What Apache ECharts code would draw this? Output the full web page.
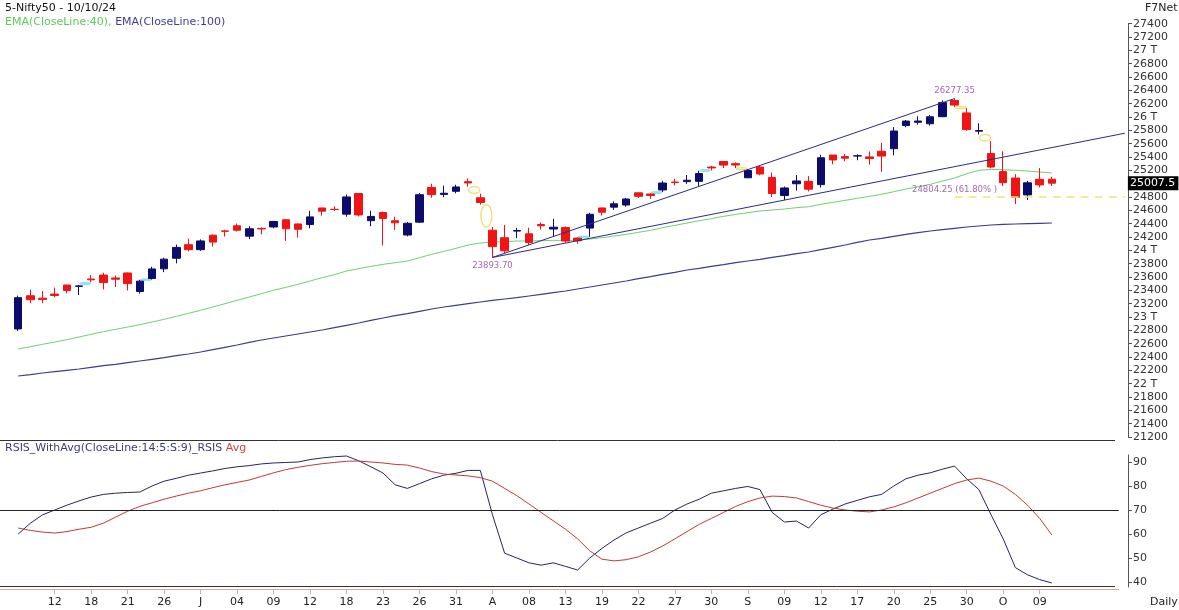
<!DOCTYPE html>
<html><head><meta charset="utf-8">
<script src="https://cdn.jsdelivr.net/npm/echarts@6/dist/echarts.min.js"></script>
<style>html,body{margin:0;padding:0;background:#fff}#c{width:1179px;height:610px}</style>
</head><body><div id="c"></div>
<script>
// ---------- data ----------
const dates = ['2024-06-07','2024-06-10','2024-06-11','2024-06-12','2024-06-13','2024-06-14','2024-06-18','2024-06-19','2024-06-20','2024-06-21','2024-06-24','2024-06-25','2024-06-26','2024-06-27','2024-06-28','2024-07-01','2024-07-02','2024-07-03','2024-07-04','2024-07-05','2024-07-08','2024-07-09','2024-07-10','2024-07-11','2024-07-12','2024-07-15','2024-07-16','2024-07-18','2024-07-19','2024-07-22','2024-07-23','2024-07-24','2024-07-25','2024-07-26','2024-07-29','2024-07-30','2024-07-31','2024-08-01','2024-08-02','2024-08-05','2024-08-06','2024-08-07','2024-08-08','2024-08-09','2024-08-12','2024-08-13','2024-08-14','2024-08-16','2024-08-19','2024-08-20','2024-08-21','2024-08-22','2024-08-23','2024-08-26','2024-08-27','2024-08-28','2024-08-29','2024-08-30','2024-09-02','2024-09-03','2024-09-04','2024-09-05','2024-09-06','2024-09-09','2024-09-10','2024-09-11','2024-09-12','2024-09-13','2024-09-16','2024-09-17','2024-09-18','2024-09-19','2024-09-20','2024-09-23','2024-09-24','2024-09-25','2024-09-26','2024-09-27','2024-09-30','2024-10-01','2024-10-03','2024-10-04','2024-10-07','2024-10-08','2024-10-09','2024-10-10'];
const open = [22821,23319,23283,23344,23480,23460,23570,23629,23586,23661,
  23382,23577,23723,23881,24085,24010,24228,24291,24369,24213,
  24329,24351,24459,24396,24387,24636,24615,24543,24853,24445,
  24568,24444,24230,24423,24943,24839,24886,25030,24789,24302,
  24189,24289,24248,24387,24320,24342,24184,24334,24636,24648,
  24680,24863,24845,24906,25025,25031,25035,25249,25333,25300,
  25089,25250,25094,24823,24999,25035,24986,25430,25406,25416,
  25402,25487,25525,25872,25921,25899,26005,26248,26062,25788,
  25452,25181,25085,24832,25066,25067];
const high = [23320,23411,23389,23441,23481,23482,23630,23664,23624,23667,
  23558,23754,23889,24087,24175,24164,24237,24309,24401,24363,
  24345,24443,24461,24402,24592,24636,24661,24837,24854,24595,
  24582,24504,24426,24861,24999,24971,24984,25078,24851,24350,
  24382,24337,24340,24419,24473,24359,24196,24563,24638,24734,
  24787,24867,24858,25043,25074,25130,25193,25268,25333,25321,
  25216,25275,25168,24957,25130,25113,25433,25430,25445,25441,
  25482,25611,25849,25956,26011,26032,26250,26277.35,26134,25907,
  25639,25485,25143,25044,25234,25105];
const low = [22789,23206,23207,23295,23353,23330,23521,23413,23450,23398,
  23350,23562,23673,23805,23985,23992,24056,24207,24281,24168,
  24240,24331,24141,24193,24331,24522,24587,24504,24509,24362,
  24074,24307,24210,24410,24790,24798,24856,24956,24686,23893.7,
  23960,24184,24079,24311,24212,24116,24099,24204,24522,24607,
  24654,24784,24771,24875,24973,24998,24966,25199,25235,25235,
  25083,25127,24801,24754,24896,24885,24942,25292,25336,25352,
  25285,25177,25426,25847,25886,25871,25998,26151,25794,25739,
  25230,24967,24694,24756,24947,24965];
const close = [23290,23259,23264,23323,23399,23466,23558,23516,23567,23501,
  23538,23721,23868,24044,24010,24141,24124,24286,24302,24324,
  24321,24433,24324,24316,24502,24587,24613,24801,24531,24509,
  24479,24413,24406,24835,24836,24857,24951,25011,24718,24056,
  23993,24297,24117,24368,24347,24139,24143,24541,24572,24698,
  24770,24811,24823,25010,25017,25052,25152,25236,25279,25280,
  25198,25145,24852,24936,25041,24918,25389,25356,25383,25418,
  25377,25415,25790,25939,25940,26004,26216,26179,25811,25797,
  25250,25015,24796,25013,24982,25007.5];
const ema40 = [22520,22555,22590,22625,22660,22700,22740,22780,22815,22850,
  22885,22925,22965,23010,23055,23100,23150,23200,23250,23300,
  23350,23400,23445,23490,23540,23590,23635,23690,23725,23760,
  23790,23815,23840,23890,23940,23985,24030,24080,24110,24125,
  24130,24140,24140,24145,24150,24150,24150,24170,24190,24215,
  24240,24270,24300,24340,24375,24410,24445,24475,24510,24540,
  24565,24590,24605,24620,24640,24655,24690,24720,24750,24780,
  24810,24840,24880,24920,24955,24990,25040,25085,25150,25200,
  25215,25210,25200,25190,25175,25160];
const ema100 = [22115,22135,22160,22180,22200,22220,22245,22270,22290,22315,
  22340,22365,22390,22420,22445,22475,22510,22545,22580,22620,
  22655,22685,22715,22745,22775,22805,22840,22875,22910,22950,
  22985,23020,23050,23085,23120,23150,23175,23200,23225,23250,
  23270,23290,23315,23340,23365,23390,23420,23450,23480,23510,
  23540,23575,23605,23640,23670,23705,23730,23760,23785,23815,
  23840,23865,23895,23920,23950,23975,24010,24045,24080,24120,
  24155,24180,24210,24240,24265,24290,24310,24330,24350,24365,
  24380,24390,24395,24400,24405,24410];
const rsis = [60,64.5,68,70,72,73.8,75.4,76.5,77,77.3,
  77.5,80,82,83.2,84.5,85.4,86.3,87.3,88,88.5,
  89.2,89.6,89.8,90,91,91.7,92.2,92.5,90.5,88,
  85.4,80.5,79,81,83,84.5,85.3,86.5,86.5,68,
  52,50,48,47,48,46.5,45,50,54,57.5,
  60.5,62.5,64.5,66.5,70,72.5,74.5,77,78,79,
  79.8,78.5,69,65,65.4,62.5,68,70.4,72.5,74,
  75.5,76.5,80,83,84.5,85.5,87,88.3,83,78.5,
  68,58,46,43,41,39.6];
const rsiAvg = [62.5,61.5,60.8,60.4,61,62,62.8,64.5,67,69.5,
  71.5,73,74.5,75.8,77,78,79.3,80.5,81.5,82.5,
  84,85.5,86.8,87.8,88.6,89.3,89.8,90.3,90.4,90,
  89.6,89,88.7,87.5,86,85,84.6,84.2,83.5,82,
  79,76,72.5,69,65.5,62,58,53,49.5,48.8,
  49.3,50.5,52.5,55,58,61,64,66.5,69,71.5,
  73.5,75,75.8,75.6,75,73.5,72,70.8,70,69.5,
  69.2,70,71.3,73,75,77,79,81,82.5,83.3,
  82,80,76.5,72,66.5,59.6];
const tickLabels = ['12','18','21','26','J','04','09','12','18','23','26','31','A','08','13','19','22','27','30','S','09','12','17','20','25','30','O','09'];
const rsiTicks = [40,50,60,70,80,90];
const rsiLevel = 70;
const swingLow = {date:'2024-08-05', value:23893.70, text:'23893.70'};
const swingHigh = {date:'2024-09-27', value:26277.35, text:'26277.35'};
const secondLow = {date:'2024-09-09', value:24753.6};
const fibLevel = {date:'2024-09-27', value:24804.25, text:'24804.25 (61.80% )'};
const lastPrice = 25007.5;

// ---------- build ----------
const FONT = 'DejaVu Sans';
const SLOT = 12.16;
const priceCats = ['s0'].concat(dates, ['e0','e1','e2','e3','e4','e5']);
const rsiCats = ['s0'].concat(dates, ['e0','e1','e2','e3','e4']);
const EMPTY4 = ['-','-','-','-'];
const candleData = [EMPTY4].concat(dates.map((d,i)=>[open[i],close[i],low[i],high[i]]));
const pad = arr => ['-'].concat(arr);

// gap markers (derived from OHLC)
const gaps = [];
for (let i=1;i<dates.length;i++){
  if (low[i] > high[i-1]) gaps.push([i+1, high[i-1], low[i], 1]);
  else if (high[i] < low[i-1]) gaps.push([i+1, high[i], low[i-1], 0]);
}
const catIdx = d => priceCats.indexOf(d);
const lastCat = priceCats.length-1;
const slope = (secondLow.value - swingLow.value)/(catIdx(secondLow.date)-catIdx(swingLow.date));
const extEnd = swingLow.value + slope*(lastCat - catIdx(swingLow.date));

const showTick = idx => { const k = idx-1; return k>=3 && k<=84 && (k-3)%3===0; };
const CLEAR = 'rgba(0,0,0,0)';

const chart = echarts.init(document.getElementById('c'), null, {renderer:'canvas'});
const option = {
  animation:false,
  backgroundColor:'#fff',
  textStyle:{fontFamily:FONT},
  grid:[
    {left:0, top:23.7, width:SLOT*priceCats.length, height:413.3, outerBoundsMode:'none', containLabel:false},
    {left:0, top:455, width:SLOT*rsiCats.length, height:132, outerBoundsMode:'none', containLabel:false}
  ],
  xAxis:[
    {type:'category', gridIndex:0, data:priceCats, boundaryGap:true, show:false},
    {type:'category', gridIndex:1, data:rsiCats, boundaryGap:true, position:'bottom', offset:2,
     axisLine:{show:true, lineStyle:{color:'#e3a3a3', width:1}},
     axisTick:{show:true, alignWithLabel:true, length:5, interval:(i)=>showTick(i), lineStyle:{color:'#e3a3a3'}},
     axisLabel:{interval:(i)=>showTick(i), margin:8, color:'#222', fontSize:11, fontFamily:FONT,
       formatter:(v,i)=> showTick(i) ? tickLabels[(i-4)/3] : ''},
     splitLine:{show:false}}
  ],
  yAxis:[
    {type:'value', gridIndex:0, position:'right', offset:1128-SLOT*priceCats.length,
     min:21200, max:27400, interval:200, scale:true, z:0,
     axisLine:{show:true, lineStyle:{color:'#555'}},
     axisTick:{show:true, length:4, lineStyle:{color:'#555'}},
     axisLabel:{margin:5, color:'#333', fontSize:11, fontFamily:FONT,
       formatter:v=> (v%1000===0) ? (v/1000)+' T' : String(v)},
     splitLine:{show:false}},
    {type:'value', gridIndex:1, position:'right', offset:1128-SLOT*rsiCats.length,
     min:40-5/2.4, max:40-5/2.4+132/2.4,
     axisLine:{show:true, lineStyle:{color:'#555'}},
     axisTick:{show:true, length:4, customValues:rsiTicks, lineStyle:{color:'#555'}},
     axisLabel:{margin:5, color:'#333', fontSize:11, fontFamily:FONT, customValues:rsiTicks},
     splitLine:{show:false}}
  ],
  series:[
    {name:'EMA40', type:'line', xAxisIndex:0, yAxisIndex:0, data:pad(ema40), symbol:'none', smooth:false,
     lineStyle:{color:'#6fd06f', width:1}, z:2},
    {name:'EMA100', type:'line', xAxisIndex:0, yAxisIndex:0, data:pad(ema100), symbol:'none',
     lineStyle:{color:'#3b3b8f', width:1.2}, z:2},
    {name:'Price', type:'candlestick', xAxisIndex:0, yAxisIndex:0, data:candleData, barWidth:8, z:5,
     itemStyle:{color:'#0c0c6c', color0:'#f01414', borderColor:'#0c0c6c', borderColor0:'#f01414', borderWidth:1},
     markLine:{symbol:['none','none'], silent:true, animation:false, precision:2, z:10,
       lineStyle:{color:'#2b2b80', width:1, type:'solid'}, label:{show:false},
       data:[
         [{coord:[swingLow.date, swingLow.value]},{coord:[swingHigh.date, swingHigh.value]}],
         [{coord:[swingLow.date, swingLow.value]},{coord:[priceCats[lastCat], extEnd]}],
         [{coord:[fibLevel.date, fibLevel.value], lineStyle:{color:'#ece67c', width:1.5, type:[8,6]}},{coord:[priceCats[lastCat], fibLevel.value]}],
         {yAxis:lastPrice, lineStyle:{color:CLEAR, width:1},
          label:{show:true, position:'end', distance:-3, formatter:String(lastPrice), color:'#fff', backgroundColor:'#000',
                 padding:[2,3,1,2], fontSize:11, fontFamily:FONT}}
       ]}},
    {name:'gaps', type:'custom', xAxisIndex:0, yAxisIndex:0, data:gaps, z:4, silent:true,
     encode:{x:0, y:[1,2]},
     renderItem:(params, api)=>{
       const idx = api.value(0);
       const p1 = api.coord([idx, api.value(1)]);
       const p2 = api.coord([idx, api.value(2)]);
       const band = api.size([1,0])[0];
       const up = api.value(3) === 1;
       const ry = Math.max(Math.abs(p1[1]-p2[1])/2, 1);
       return {type:'ellipse', shape:{cx:p1[0]-band/2, cy:(p1[1]+p2[1])/2, rx:band*0.45, ry:ry},
         style:{fill: up ? '#93e2f0' : 'none', stroke: up ? '#93e2f0' : '#ece27a', lineWidth: up ? 1 : 1.5}};
     }},
    {name:'annot', type:'scatter', xAxisIndex:0, yAxisIndex:0, symbolSize:1, itemStyle:{color:CLEAR}, z:6, silent:true,
     label:{show:true, color:'#8a3e98', fontSize:8.5, fontFamily:FONT},
     data:[
       {value:[swingHigh.date, swingHigh.value], label:{position:'top', distance:3, formatter:swingHigh.text}},
       {value:[swingLow.date, swingLow.value], label:{position:'bottom', distance:3, formatter:swingLow.text}},
       {value:[fibLevel.date, fibLevel.value], label:{position:'top', distance:2, formatter:fibLevel.text}}
     ]},
    {name:'RSIS', type:'line', xAxisIndex:1, yAxisIndex:1, data:pad(rsis), symbol:'none', clip:false,
     lineStyle:{color:'#26265a', width:1},
     markLine:{symbol:['none','none'], silent:true, label:{show:false},
       lineStyle:{color:'#222', width:1, type:'solid'}, data:[{yAxis:rsiLevel}]}},
    {name:'Avg', type:'line', xAxisIndex:1, yAxisIndex:1, data:pad(rsiAvg), symbol:'none', clip:false,
     lineStyle:{color:'#c23a3a', width:1}}
  ],
  graphic:[
    {type:'text', x:5, y:8, style:{text:'5-Nifty50 - 10/10/24', fill:'#111', font:'11px '+FONT, verticalAlign:'middle'}},
    {type:'text', x:5, y:22, style:{text:'{a|EMA(CloseLine:40),} {b|EMA(CloseLine:100)}', font:'11px '+FONT, verticalAlign:'middle',
      rich:{a:{fill:'#5ccb5c', font:'11px '+FONT}, b:{fill:'#3d3d9c', font:'11px '+FONT}}}},
    {type:'text', x:1145, y:8, style:{text:'F7Net', fill:'#222', font:'11px '+FONT, verticalAlign:'middle'}},
    {type:'text', x:5, y:448, style:{text:'{a|RSIS_WithAvg(CloseLine:14:5:S:9)_RSIS} {b|Avg}', font:'11px '+FONT, verticalAlign:'middle',
      rich:{a:{fill:'#3c3c78', font:'11px '+FONT}, b:{fill:'#d84040', font:'11px '+FONT}}}},
    {type:'text', x:1150, y:602, style:{text:'Daily', fill:'#222', font:'11px '+FONT, verticalAlign:'middle'}},
    {type:'line', shape:{x1:0, y1:440.5, x2:1115, y2:440.5}, style:{stroke:'#333', lineWidth:1}},
    {type:'line', shape:{x1:0, y1:586.5, x2:1115, y2:586.5}, style:{stroke:'#333', lineWidth:1}}
  ]
};
chart.setOption(option);
</script></body></html>
